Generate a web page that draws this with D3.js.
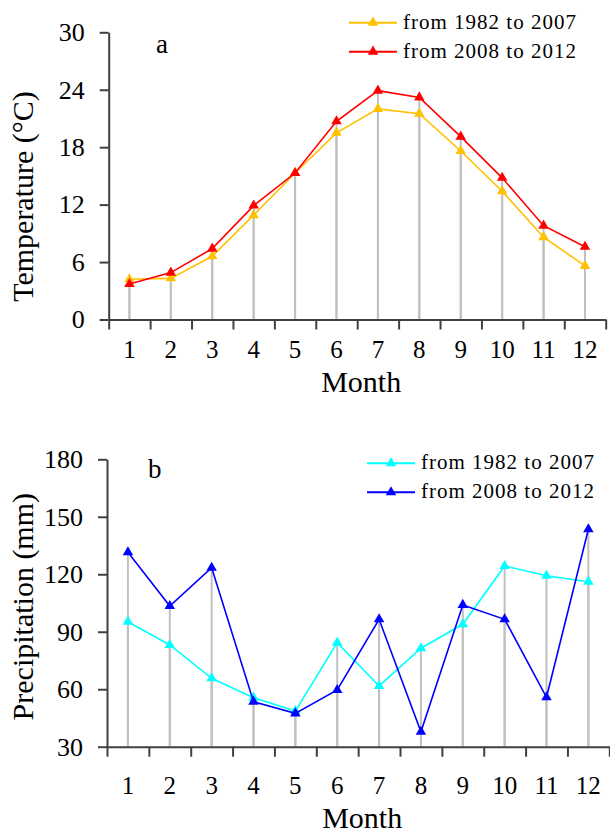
<!DOCTYPE html>
<html>
<head>
<meta charset="utf-8">
<script src="https://cdn.jsdelivr.net/npm/d3@7"></script>
<style>
  body { margin: 0; background: #fff; }
  text { font-family: "Liberation Serif", "Times New Roman", serif; fill: #000; }
</style>
</head>
<body>
<svg width="610" height="833"></svg>
<script>
const months = [1, 2, 3, 4, 5, 6, 7, 8, 9, 10, 11, 12]

// panel a: mean monthly temperature (°C)
const tempOld = [4.2, 4.3, 6.6, 10.9, 15.3, 19.5, 22.0, 21.5, 17.6, 13.4, 8.6, 5.6]
const tempNew = [3.7, 4.9, 7.4, 11.9, 15.3, 20.7, 23.9, 23.2, 19.1, 14.8, 9.8, 7.6]
const tempTicks = [0, 6, 12, 18, 24, 30]

// panel b: monthly precipitation (mm)
const precOld = [95.2, 83.1, 65.7, 55.6, 48.6, 84.3, 61.7, 81.4, 93.9, 124.3, 119.2, 116.1]
const precNew = [131.5, 103.4, 123.4, 53.5, 47.4, 59.6, 96.5, 37.8, 104.0, 96.5, 55.8, 143.5]
const precTicks = [30, 60, 90, 120, 150, 180]

const seriesNames = ["from 1982 to 2007", "from 2008 to 2012"]

const svg = d3.select("svg")

function drawPanel(p) {
  const g = svg.append("g")

  const x = d3.scaleBand().domain(months).range([p.x0, p.x1])
  const xEdge = d3.scaleLinear().domain([0, 12]).range([p.x0, p.x1])
  const y = d3.scaleLinear().domain(p.domain).range([p.y0, p.y1])

  // drop lines
  p.series.forEach(s => {
    g.append("g").selectAll("line")
      .data(s.values)
      .enter()
      .append("line")
      .attr("x1", (d, i) => x(months[i]) + x.bandwidth() / 2)
      .attr("x2", (d, i) => x(months[i]) + x.bandwidth() / 2)
      .attr("y1", d => y(d))
      .attr("y2", y(p.domain[0]))
      .attr("stroke", "#c0c0c0")
      .attr("stroke-width", 2)
  })

  // axes
  const yAxis = g.append("g")
    .attr("transform", `translate(${p.x0},0)`)
    .call(d3.axisLeft(y).tickValues(p.ticks).tickSize(9).tickSizeOuter(0).tickPadding(15))
  yAxis.select(".domain").attr("stroke", "#404040").attr("stroke-width", 2)
  yAxis.selectAll(".tick line").attr("stroke", "#404040").attr("stroke-width", 2)
  yAxis.selectAll(".tick text")
    .attr("font-size", 26)
    .attr("fill", "#000")

  const xAxis = g.append("g")
    .attr("transform", `translate(0,${p.y0})`)
    .call(d3.axisBottom(xEdge).ticks(12).tickSize(10).tickSizeOuter(0).tickFormat(""))
  xAxis.select(".domain").attr("stroke", "#404040").attr("stroke-width", 2)
  xAxis.selectAll(".tick line").attr("stroke", "#404040").attr("stroke-width", 2)

  g.append("g").selectAll("text")
    .data(months)
    .enter()
    .append("text")
    .attr("x", d => x(d) + x.bandwidth() / 2)
    .attr("y", p.monthY)
    .attr("text-anchor", "middle")
    .attr("font-size", 25)
    .text(d => d)

  // series
  const line = d3.line()
    .x((d, i) => x(months[i]) + x.bandwidth() / 2)
    .y(d => y(d))
  const tri = d3.symbol().type(d3.symbolTriangle).size(48)

  p.series.forEach(s => {
    g.append("path")
      .datum(s.values)
      .attr("d", line)
      .attr("fill", "none")
      .attr("stroke", s.color)
      .attr("stroke-width", 1.6)
    g.append("g").selectAll("path")
      .data(s.values)
      .enter()
      .append("path")
      .attr("d", tri)
      .attr("transform", (d, i) => `translate(${x(months[i]) + x.bandwidth() / 2},${y(d)})`)
      .attr("fill", s.color)
  })

  // titles
  g.append("text")
    .attr("transform", `translate(33,${p.titleY}) rotate(-90)`)
    .attr("text-anchor", "middle")
    .attr("font-size", 30)
    .text(p.yTitle)

  g.append("text")
    .attr("x", (p.x0 + p.x1) / 2 + 4)
    .attr("y", p.monthTitleY)
    .attr("text-anchor", "middle")
    .attr("font-size", 30)
    .text("Month")

  g.append("text")
    .attr("x", p.letterX)
    .attr("y", p.letterY)
    .attr("font-size", 27)
    .text(p.letter)

  // legend
  p.series.forEach((s, i) => {
    const ly = p.legendY + i * 29
    g.append("line")
      .attr("x1", p.legendX).attr("x2", p.legendX + 48)
      .attr("y1", ly).attr("y2", ly)
      .attr("stroke", s.color)
      .attr("stroke-width", 2)
    g.append("path")
      .attr("d", tri)
      .attr("transform", `translate(${p.legendX + 24},${ly})`)
      .attr("fill", s.color)
    g.append("text")
      .attr("x", p.legendX + 54)
      .attr("y", ly + 6)
      .attr("font-size", 21)
      .attr("letter-spacing", 1.0)
      .text(seriesNames[i])
  })
}

drawPanel({
  x0: 108.7, x1: 605.7, y0: 319.5, y1: 32.3,
  domain: [0, 30], ticks: tempTicks,
  series: [{ values: tempOld, color: "#ffc000" }, { values: tempNew, color: "#ff0000" }],
  monthY: 358, monthTitleY: 392,
  yTitle: "Temperature (°C)", titleY: 196.5,
  letter: "a", letterX: 156, letterY: 53,
  legendX: 349, legendY: 22.7
})

drawPanel({
  x0: 107, x1: 609.3, y0: 746.7, y1: 459.3,
  domain: [30, 180], ticks: precTicks,
  series: [{ values: precOld, color: "#00ffff" }, { values: precNew, color: "#0000ff" }],
  monthY: 794, monthTitleY: 828,
  yTitle: "Precipitation (mm)", titleY: 606.7,
  letter: "b", letterX: 148, letterY: 477.7,
  legendX: 367, legendY: 463.3
})
</script>
</body>
</html>
